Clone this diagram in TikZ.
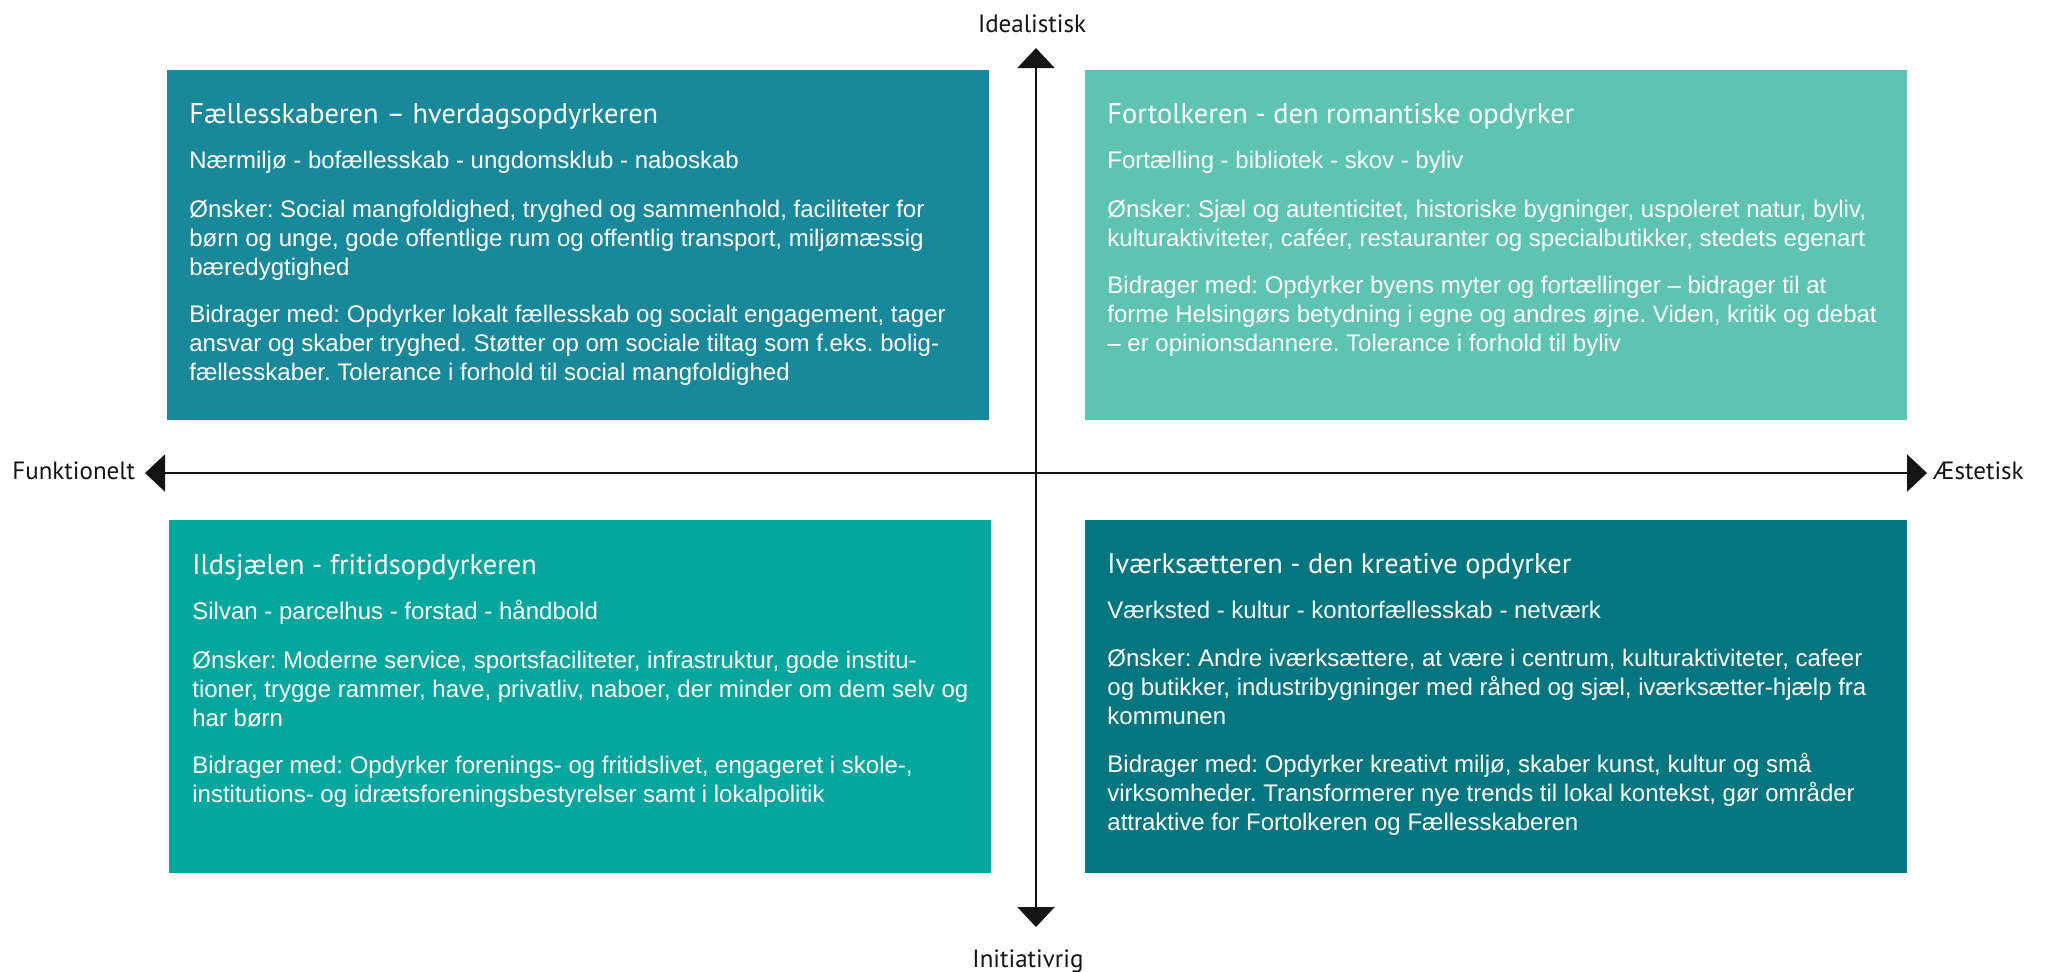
\documentclass[tikz,border=0pt]{standalone}
\usepackage{fontspec}
\setmainfont{Liberation Sans}
\newfontfamily\headfont{PT Sans}
\usetikzlibrary{arrows.meta}
\definecolor{cTL}{RGB}{26,136,155}
\definecolor{cTR}{RGB}{94,196,177}
\definecolor{cBL}{RGB}{4,166,158}
\definecolor{cBR}{RGB}{5,117,127}
\definecolor{axiscol}{RGB}{20,20,20}
\frenchspacing
\tikzset{
  quad/.style={fill=#1, draw=none, anchor=north west, minimum width=411pt, inner sep=0pt, outer sep=0pt},
  ttl/.style={anchor=base west, inner sep=0pt, text=white, font=\headfont\fontsize{14.2}{17}\selectfont},
  bodytext/.style={anchor=base west, inner sep=0pt, text=white, font=\fontsize{12}{14.5}\selectfont},
  axislabel/.style={inner sep=0pt, text=axiscol, font=\headfont\fontsize{12.5}{15}\selectfont},
  axisline/.style={draw=axiscol, line width=1pt, {Triangle[width=18.5pt,length=10pt]}-{Triangle[width=18.5pt,length=10pt]}}
}
\newcommand{\para}[1]{\parbox[t]{405pt}{\raggedright\frenchspacing #1}}
\begin{document}
\begin{tikzpicture}[x=0.5pt,y=-0.5pt]
\useasboundingbox (0,0) rectangle (2049,971);
% quadrant boxes
\node[quad=cTL, minimum height=175pt] (tl) at (167,70) {};
\node[quad=cTR, minimum height=175pt] (tr) at (1085,70) {};
\node[quad=cBL, minimum height=176.5pt] (bl) at (169,520) {};
\node[quad=cBR, minimum height=176.5pt] (br) at (1085,520) {};
% axes
\coordinate (ytop) at (1036,48);
\coordinate (ybot) at (1036,927);
\coordinate (xleft) at (145,473);
\coordinate (xright) at (1927,473);
\draw[axisline] (ytop) -- (ybot);
\draw[axisline] (xleft) -- (xright);
\node[axislabel, anchor=base] (lidea) at (1032,32) {Idealistisk};
\node[axislabel, anchor=base] (linit) at (1028,967) {Initiativrig};
\node[axislabel, anchor=base west] (lfunk) at (12,479) {Funktionelt};
\node[axislabel, anchor=base west] (laest) at (1933,479) {Æstetisk};
% top left
\node[ttl] (tl1) at (189,123) {Fællesskaberen – hverdagsopdyrkeren};
\node[bodytext] (tl2) at (189,168) {Nærmiljø - bofællesskab - ungdomsklub - naboskab};
\node[bodytext] (tl3) at (189,217) {\para{Ønsker: Social mangfoldighed, tryghed og sammenhold, faciliteter for\\ børn og unge, gode offentlige rum og offentlig transport, miljømæssig\\ bæredygtighed}};
\node[bodytext] (tl4) at (189,322) {\para{Bidrager med: Opdyrker lokalt fællesskab og socialt engagement, tager\\ ansvar og skaber tryghed. Støtter op om sociale tiltag som f.eks. bolig-\\ fællesskaber. Tolerance i forhold til social mangfoldighed}};
% top right
\node[ttl] (tr1) at (1107,123) {Fortolkeren - den romantiske opdyrker};
\node[bodytext] (tr2) at (1107,168) {Fortælling - bibliotek - skov - byliv};
\node[bodytext] (tr3) at (1107,217) {\para{Ønsker: Sjæl og autenticitet, historiske bygninger, uspoleret natur, byliv,\\ kulturaktiviteter, caféer, restauranter og specialbutikker, stedets egenart}};
\node[bodytext] (tr4) at (1107,293) {\para{Bidrager med: Opdyrker byens myter og fortællinger – bidrager til at\\ forme Helsingørs betydning i egne og andres øjne. Viden, kritik og debat\\ – er opinionsdannere. Tolerance i forhold til byliv}};
% bottom left
\node[ttl] (bl1) at (192,574) {Ildsjælen - fritidsopdyrkeren};
\node[bodytext] (bl2) at (192,619) {Silvan - parcelhus - forstad - håndbold};
\node[bodytext] (bl3) at (192,668) {\para{Ønsker: Moderne service, sportsfaciliteter, infrastruktur, gode institu-\\ tioner, trygge rammer, have, privatliv, naboer, der minder om dem selv og\\ har børn}};
\node[bodytext] (bl4) at (192,773) {\para{Bidrager med: Opdyrker forenings- og fritidslivet, engageret i skole-,\\ institutions- og idrætsforeningsbestyrelser samt i lokalpolitik}};
% bottom right
\node[ttl] (br1) at (1107,573) {Iværksætteren - den kreative opdyrker};
\node[bodytext] (br2) at (1107,618) {Værksted - kultur - kontorfællesskab - netværk};
\node[bodytext] (br3) at (1107,666) {\para{Ønsker: Andre iværksættere, at være i centrum, kulturaktiviteter, cafeer\\ og butikker, industribygninger med råhed og sjæl, iværksætter-hjælp fra\\ kommunen}};
\node[bodytext] (br4) at (1107,772) {\para{Bidrager med: Opdyrker kreativt miljø, skaber kunst, kultur og små\\ virksomheder. Transformerer nye trends til lokal kontekst, gør områder\\ attraktive for Fortolkeren og Fællesskaberen}};
\end{tikzpicture}
\end{document}
